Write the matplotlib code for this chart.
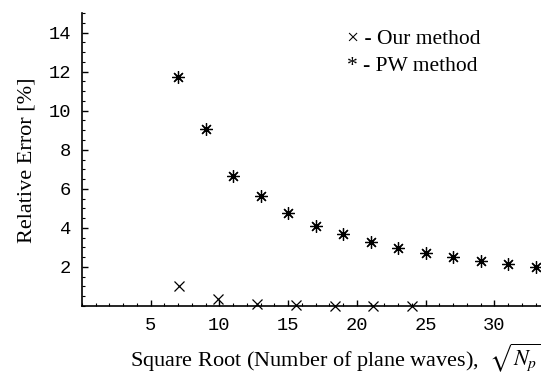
import matplotlib.pyplot as plt
from matplotlib.ticker import MultipleLocator

# data
our_x = [7.07, 9.9, 12.73, 15.56, 18.38, 21.21, 24.04]
our_err = [1.03, 0.34, 0.10, 0.03, 0.02, 0.0, 0.0]

pw_x = [7, 9, 11, 13, 15, 17, 19, 21, 23, 25, 27, 29, 31, 33]
pw_err = [11.74, 9.06, 6.63, 5.64, 4.75, 4.10, 3.69, 3.26, 2.99, 2.73, 2.49, 2.32, 2.15, 2.02]

x_ticks = [5, 10, 15, 20, 25, 30]
y_ticks = [2, 4, 6, 8, 10, 12, 14]

fig = plt.figure(figsize=(5.41, 3.79), dpi=100)
ax = fig.add_axes([82 / 541, 1 - 306 / 379, 1 - 82 / 541, (306 - 13) / 379])

ax.plot(our_x, our_err, linestyle="none", marker="x", markersize=7,
        markeredgewidth=0.9, color="black", clip_on=False)
ax.plot(pw_x, pw_err, linestyle="none", marker=(8, 2, 0), markersize=9,
        markeredgewidth=0.9, color="black", clip_on=False)

ax.set_xlim(0, 33.4)
ax.set_ylim(0, 15)
ax.set_xticks(x_ticks)
ax.set_yticks(y_ticks)
ax.xaxis.set_minor_locator(MultipleLocator(1))
ax.yaxis.set_minor_locator(MultipleLocator(0.5))

for s in ["top", "right"]:
    ax.spines[s].set_visible(False)
for s in ["left", "bottom"]:
    ax.spines[s].set_linewidth(1.2)

ax.tick_params(which="major", direction="in", length=4, width=1, pad=8)
ax.tick_params(which="minor", direction="in", length=2, width=0.8)
for lab in ax.get_xticklabels() + ax.get_yticklabels():
    lab.set_family("Liberation Mono")
    lab.set_fontsize(13.5)

fig.text(27 / 541, 1 - 160 / 379, "Relative Error [%]", family="Liberation Serif",
         fontsize=16, rotation=90, ha="center", va="center")
fig.text(130 / 541, 1 - 358 / 379, r"Square Root (Number of plane waves),  $\sqrt{N_p}$",
         family="Liberation Serif", fontsize=16, ha="left", va="center",
         math_fontfamily="stix")

ax.text(0.578, 0.91, "\u00d7 - Our method", transform=ax.transAxes,
        family="Liberation Serif", fontsize=15.5, va="center")
ax.text(0.578, 0.818, "* - PW method", transform=ax.transAxes,
        family="Liberation Serif", fontsize=15.5, va="center")

fig.savefig("out.png", dpi=100)
